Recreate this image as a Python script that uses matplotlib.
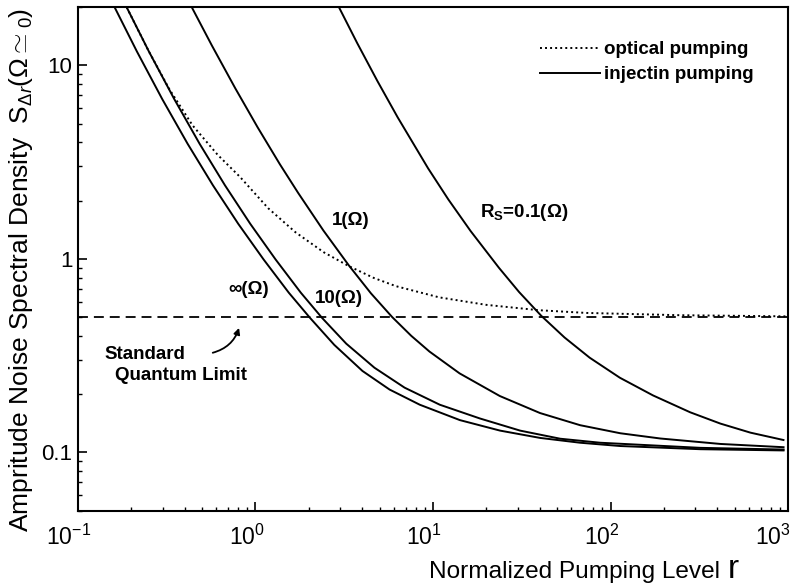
import matplotlib
matplotlib.use('Agg')
import matplotlib.pyplot as plt
from matplotlib.lines import Line2D
from matplotlib.ticker import (LogLocator, NullFormatter, FixedLocator, FixedFormatter,
                               LogFormatterSciNotation)
from matplotlib.transforms import ScaledTranslation

plt.rcParams['font.family'] = ['Liberation Sans', 'DejaVu Sans']
plt.rcParams['mathtext.fontset'] = 'custom'
plt.rcParams['mathtext.rm'] = 'Liberation Sans'
plt.rcParams['mathtext.it'] = 'Liberation Sans:italic'
plt.rcParams['mathtext.bf'] = 'Liberation Sans:bold'
plt.rcParams['xtick.direction'] = 'in'
plt.rcParams['ytick.direction'] = 'in'
plt.rcParams['xtick.major.size'] = 6.5
plt.rcParams['ytick.major.size'] = 6.5
plt.rcParams['xtick.minor.size'] = 3.2
plt.rcParams['ytick.minor.size'] = 3.2
plt.rcParams['xtick.major.width'] = 1.2
plt.rcParams['ytick.major.width'] = 1.2
plt.rcParams['xtick.minor.width'] = 1.0
plt.rcParams['ytick.minor.width'] = 1.0
plt.rcParams['axes.linewidth'] = 1.5

# values: pumping level r and noise S
# injection pumping, R_s = infinity
r_inf = [0.1606, 0.2147, 0.2984, 0.4145, 0.5758, 0.7995, 1.110, 1.540, 2.028, 2.778,
         4.004, 5.695, 8.423, 14.18, 23.87, 40.16, 67.55, 113.6, 321.2, 944]
s_inf = [20.0, 11.79, 6.683, 3.930, 2.397, 1.516, 0.9928, 0.668, 0.495, 0.359,
         0.2632, 0.2109, 0.1761, 0.1466, 0.1294, 0.1186, 0.1120, 0.1077, 0.1037, 0.1022]

# R_s = 10 ohm
r_10 = [0.1878, 0.2508, 0.3488, 0.4843, 0.673, 0.9344, 1.297, 1.800, 2.371, 3.245,
        4.679, 6.921, 10.92, 18.38, 30.95, 52.07, 87.58, 321.2, 944]
s_10 = [20.0, 11.79, 6.683, 3.930, 2.397, 1.516, 0.9928, 0.668, 0.495, 0.3642,
        0.2735, 0.2157, 0.1761, 0.1495, 0.1294, 0.1175, 0.1120, 0.1054, 0.1033]

# R_s = 1 ohm
r_1 = [0.437, 0.568, 0.769, 1.028, 1.372, 1.739, 2.414, 3.351, 4.470, 5.886,
       7.545, 9.546, 14.12, 23.79, 40.07, 67.45, 113.5, 190.9, 416.5, 944]
s_1 = [20.0, 12.65, 7.61, 4.78, 3.08, 2.19, 1.399, 0.926, 0.663, 0.50,
       0.3996, 0.3317, 0.2557, 0.1953, 0.1595, 0.138, 0.1254, 0.1178, 0.1104, 0.1062]

# R_s = 0.1 ohm
r_01 = [2.949, 3.738, 4.864, 6.327, 9.386, 12.21, 16.29, 23.52, 30.56, 40.76,
        55.08, 76.32, 112.9, 173.6, 281.2, 415.7, 614.3, 943]
s_01 = [20.0, 13.04, 8.286, 5.379, 2.933, 2.024, 1.391, 0.8985, 0.673, 0.507,
        0.392, 0.3082, 0.2428, 0.1967, 0.1609, 0.1407, 0.1263, 0.1157]

# optical pumping
r_opt = [0.1878, 0.2508, 0.3265, 0.4417, 0.6128, 0.817, 1.179, 1.678, 2.418, 3.351,
         4.641, 6.18, 10.82, 19.93, 39.7, 73.1, 244.8, 982]
s_opt = [20.0, 11.79, 7.545, 4.895, 3.442, 2.652, 1.825, 1.372, 1.082, 0.917,
         0.796, 0.722, 0.632, 0.578, 0.542, 0.525, 0.511, 0.504]

# standard quantum limit
r_sql = [0.1, 1000]
s_sql = [0.5, 0.5]

x_ticks = [0.1, 1, 10, 100, 1000]
y_ticks = [0.1, 1, 10]
y_ticklabels = ['0.1', '1', '10']

fig = plt.figure(figsize=(7.95, 5.87), dpi=100)
ax = fig.add_axes([0.0981, 0.1303, 0.8931, 0.8577])

lw = 1.4
for r, s in [(r_inf, s_inf), (r_10, s_10), (r_1, s_1), (r_01, s_01)]:
    ax.plot(r, s, color='black', lw=lw)
ax.plot(r_opt, s_opt, color='black', lw=lw, linestyle=(0, (1, 1.6)))
ax.plot(r_sql, s_sql, color='black', lw=1.3, linestyle=(0, (5.5, 3.3)))

ax.set_xscale('log')
ax.set_yscale('log')
ax.set_xlim(0.1, 1000)
ax.set_ylim(0.05, 20)

ax.xaxis.set_major_locator(FixedLocator(x_ticks))
ax.xaxis.set_major_formatter(LogFormatterSciNotation())
ax.yaxis.set_major_locator(FixedLocator(y_ticks))
ax.yaxis.set_major_formatter(FixedFormatter(y_ticklabels))
ax.yaxis.set_minor_locator(LogLocator(base=10, subs=range(2, 10)))
ax.yaxis.set_minor_formatter(NullFormatter())
ax.xaxis.set_minor_locator(LogLocator(base=10, subs=range(2, 10)))
ax.xaxis.set_minor_formatter(NullFormatter())
ax.tick_params(axis='y', which='major', labelsize=16, pad=4)
ax.tick_params(axis='x', which='major', labelsize=16.5, pad=10)

# shift x tick labels a little left, like the original
ticks = ax.xaxis.get_major_ticks(len(x_ticks))
for i, tick in enumerate(ticks):
    dx = -15 if i == len(x_ticks) - 1 else -9
    shift = ScaledTranslation(dx / 100, 0, fig.dpi_scale_trans)
    tick.label1.set_transform(tick.label1.get_transform() + shift)

# curve labels
kw = dict(transform=ax.transAxes, fontsize=13.5, fontweight='bold', ha='center', va='center')
ax.text(0.3834, 0.577, '1(Ω)', **kw)
ax.text(0.6285, 0.591, r'R$_\mathbf{S}$=0.1(Ω)', **kw)
ax.text(0.2408, 0.438, '∞(Ω)', **kw)
ax.text(0.368, 0.422, '10(Ω)', **kw)
ax.text(0.038, 0.309, 'Standard', transform=ax.transAxes, fontsize=13.5,
        fontweight='bold', ha='left', va='center')
ax.text(0.052, 0.269, 'Quantum Limit', transform=ax.transAxes, fontsize=13.5,
        fontweight='bold', ha='left', va='center')
ax.annotate('', xy=(0.228, 0.368), xytext=(0.186, 0.312),
            xycoords='axes fraction', textcoords='axes fraction',
            arrowprops=dict(arrowstyle='-|>', color='black', lw=1.3,
                            connectionstyle='arc3,rad=0.3', mutation_scale=9))

handles = [Line2D([], [], color='black', lw=lw, linestyle=(0, (1, 1.6))),
           Line2D([], [], color='black', lw=lw)]
ax.legend(handles, ['optical pumping', 'injectin pumping'], loc='upper right',
          bbox_to_anchor=(0.951, 0.932), frameon=False, borderpad=0, borderaxespad=0,
          handlelength=3.2, handletextpad=0.2, labelspacing=0.42,
          prop={'size': 13.5, 'weight': 'bold'})

fig.text(0.027, 0.54, r'Ampritude Noise Spectral Density  S$_{\Delta r}$(Ω$\simeq_0$)',
         rotation=90, ha='center', va='center', fontsize=19)
fig.text(0.906, 0.0153, 'Normalized Pumping Level', ha='right', va='baseline', fontsize=17.6)
fig.text(0.915, 0.0153, 'r', ha='left', va='baseline', fontsize=24)

fig.savefig('out.png', dpi=100)
